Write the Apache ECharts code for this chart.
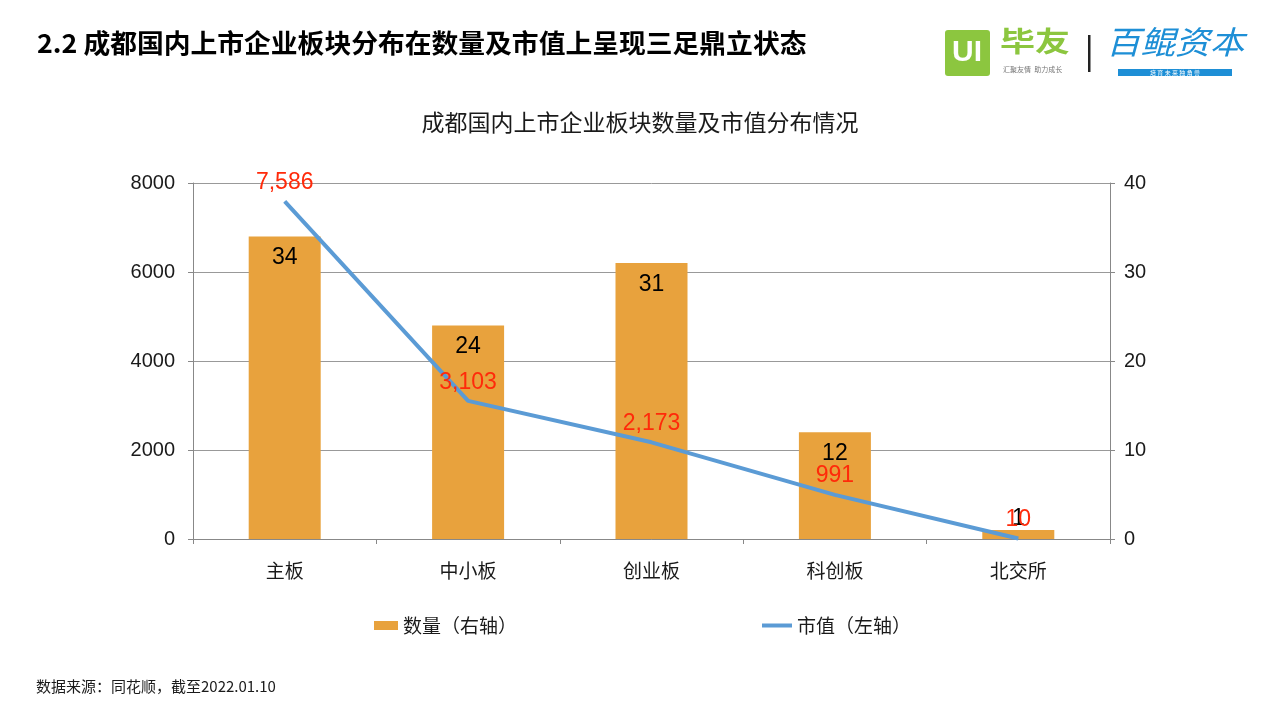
<!DOCTYPE html>
<html><head><meta charset="utf-8">
<script src="https://cdn.jsdelivr.net/npm/echarts@6/dist/echarts.min.js"></script>
<style>html,body{margin:0;padding:0;background:#fff}#c{width:1280px;height:720px}</style>
</head><body><div id="c"></div>
<script>
const categories = ['主板', '中小板', '创业板', '科创板', '北交所'];
const countValues = [34, 24, 31, 12, 1];
const marketValues = [7586, 3103, 2173, 991, 10];
const leftTicks = [0, 8000, 2000];
const rightTicks = [0, 40, 10];
const seriesNames = ['数量（右轴）', '市值（左轴）'];

const CJK = '"Noto Sans CJK SC", "Liberation Sans", sans-serif';
const NUM = '"Liberation Sans", "Noto Sans CJK SC", sans-serif';

// tiny bars get their label above the bar (as in the source chart)
const barData = countValues.map(v => v < 3 ? { value: v, label: { position: 'top', distance: 0 } } : v);

const chart = echarts.init(document.getElementById('c'));
chart.setOption({
  backgroundColor: '#fff',
  animation: false,
  title: {
    text: '成都国内上市企业板块数量及市值分布情况',
    left: 'center', top: 106,
    textStyle: { fontFamily: CJK, fontSize: 23, fontWeight: 'normal', color: '#1a1a1a' }
  },
  grid: { left: 193, right: 170, top: 183, bottom: 181 },
  legend: [
    { data: [{ name: seriesNames[0], icon: 'rect' }], left: 369, top: 611, itemWidth: 24, itemHeight: 9,
      textStyle: { fontFamily: CJK, fontSize: 19, color: '#1a1a1a' } },
    { data: [{ name: seriesNames[1], icon: 'rect', itemStyle: { color: '#5B9BD5', opacity: 1 } }], left: 757, top: 611, itemWidth: 30, itemHeight: 4,
      textStyle: { fontFamily: CJK, fontSize: 19, color: '#1a1a1a' } }
  ],
  xAxis: {
    type: 'category', data: categories,
    axisLine: { lineStyle: { color: '#888', width: 1 } },
    axisTick: { show: true, length: 5, lineStyle: { color: '#888' } },
    axisLabel: { fontFamily: CJK, fontSize: 19, color: '#1a1a1a', margin: 22 }
  },
  yAxis: [
    { type: 'value', min: leftTicks[0], max: leftTicks[1], interval: leftTicks[2],
      axisLine: { show: true, lineStyle: { color: '#888' } },
      axisTick: { show: true, length: 5, lineStyle: { color: '#888' } },
      splitLine: { lineStyle: { color: '#999', width: 1 } },
      axisLabel: { fontFamily: NUM, fontSize: 20, color: '#1a1a1a', margin: 18, formatter: v => String(v) } },
    { type: 'value', min: rightTicks[0], max: rightTicks[1], interval: rightTicks[2], position: 'right',
      axisLine: { show: true, lineStyle: { color: '#888' } },
      axisTick: { show: true, length: 5, lineStyle: { color: '#888' } },
      splitLine: { show: false },
      axisLabel: { fontFamily: NUM, fontSize: 20, color: '#1a1a1a', margin: 14, formatter: v => String(v) } }
  ],
  series: [
    { name: seriesNames[0], type: 'bar', yAxisIndex: 1, data: barData, barWidth: 72,
      itemStyle: { color: '#E8A23D' },
      label: { show: true, position: 'insideTop', distance: 10, fontFamily: NUM, fontSize: 23, color: '#000' } },
    { name: seriesNames[1], type: 'line', yAxisIndex: 0, data: marketValues, z: 5,
      showSymbol: true, symbol: 'circle', symbolSize: 0.5,
      lineStyle: { color: '#5B9BD5', width: 4 }, itemStyle: { color: '#5B9BD5' },
      label: { show: true, position: 'top', distance: 7, fontFamily: NUM, fontSize: 23, color: '#FF2A0A',
        formatter: p => p.value.toLocaleString('en-US') } }
  ],
  graphic: [
    { type: 'text', x: 37, y: 30, scaleX: 1.03,
      style: { text: '2.2 成都国内上市企业板块分布在数量及市值上呈现三足鼎立状态', fontFamily: CJK, fontSize: 26, fontWeight: 'bold', fill: '#000' } },
    { type: 'text', left: 36, top: 679,
      style: { text: '数据来源：同花顺，截至2022.01.10', fontFamily: CJK, fontSize: 15, fill: '#1a1a1a' } },
    // logo 1
    { type: 'rect', shape: { x: 945, y: 30, width: 45, height: 46, r: 3 }, style: { fill: '#8CC63F' } },
    { type: 'text', x: 967, y: 53, style: { text: 'UI', fontFamily: NUM, fontSize: 30, fontWeight: 'bold', fill: '#fff', align: 'center', verticalAlign: 'middle' } },
    { type: 'text', x: 1000, y: 27, scaleX: 1.25, style: { text: '毕友', fontFamily: CJK, fontSize: 28, fontWeight: 'bold', fill: '#8CC63F' } },
    { type: 'text', x: 1003, y: 66, style: { text: '汇聚友情  助力成长', fontFamily: CJK, fontSize: 7, fill: '#777' } },
    { type: 'rect', shape: { x: 1088, y: 35, width: 2.5, height: 37 }, style: { fill: '#222' } },
    { type: 'text', x: 1106, y: 26, scaleX: 1.08, style: { text: '百鲲资本', fontFamily: CJK, fontSize: 32, fontStyle: 'italic', fill: '#1E8FD6' } },
    { type: 'rect', shape: { x: 1118, y: 69, width: 114, height: 7 }, style: { fill: '#1E8FD6' } },
    { type: 'text', x: 1175, y: 72.5, style: { text: '培 育 未 来 独 角 兽', fontFamily: CJK, fontSize: 6, fill: '#fff', align: 'center', verticalAlign: 'middle' } }
  ]
});
</script></body></html>
